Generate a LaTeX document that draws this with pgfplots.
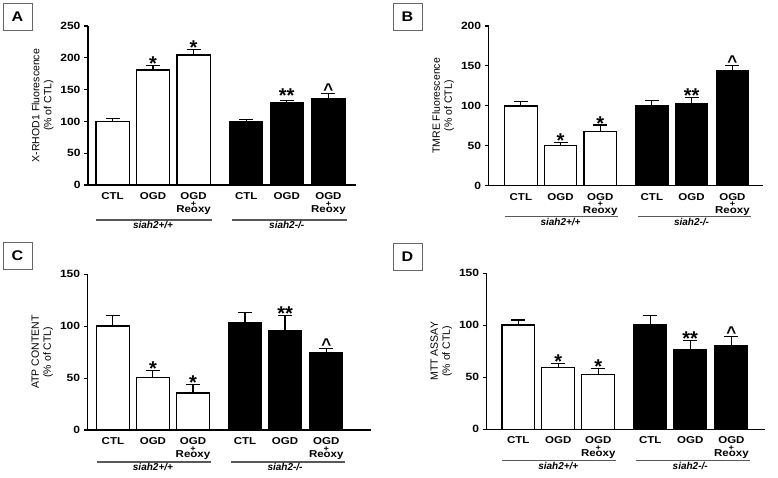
\documentclass[border=0pt]{standalone}
\usepackage{fontspec}
\setmainfont[FakeStretch=1.15]{Liberation Sans}
\newfontfamily\plain{Liberation Sans}
\usepackage{pgfplots}
\pgfplotsset{compat=1.18}

\pgfplotsset{
  panel/.style={
    scale only axis,
    anchor=south west,
    axis x line*=bottom,
    axis y line*=left,
    axis line style={line width=1.1pt},
    ymin=0,
    ybar, bar width=0.82, bar shift=0,
    clip=false,
    tick align=outside,
    major tick length=4pt,
    ytick style={line width=1.1pt, black},
    xtick style={draw=none},
    xtick={0,1,2,3.3,4.3,5.33},
    xticklabels={CTL,OGD,{OGD\\[-1.5pt]{\fontsize{8}{8}\selectfont+}\\[-1.5pt]Reoxy},CTL,OGD,{OGD\\[-1.5pt]{\fontsize{8}{8}\selectfont+}\\[-1.5pt]Reoxy}},
    xticklabel style={font=\bfseries\fontsize{10}{8}\selectfont, align=center},
    yticklabel style={font=\bfseries\fontsize{10.5}{11}\selectfont},
    /pgf/number format/assume math mode=true,
    ylabel style={font=\plain\fontsize{10.5}{12}\selectfont, align=center},
  },
  wbar/.style={fill=white, draw=black, line width=1.2pt,
    error bars/.cd, y dir=plus, y explicit,
    error bar style={line width=1.1pt, black},
    error mark options={rotate=90, line width=1.1pt, mark size=7pt, black}},
  bbar/.style={fill=black, draw=black, line width=1.2pt,
    error bars/.cd, y dir=plus, y explicit,
    error bar style={line width=1.1pt, black},
    error mark options={rotate=90, line width=1.1pt, mark size=7pt, black}},
}

\newcommand{\groups}[1]{%
  \draw[black!65, line width=1.4pt] ([yshift=-#1]axis cs:-0.4,0) -- ([yshift=-#1]axis cs:2.45,0);
  \draw[black!65, line width=1.4pt] ([yshift=-#1]axis cs:2.95,0) -- ([yshift=-#1]axis cs:5.8,0);
  \node[font=\plain\bfseries\itshape\fontsize{10}{11}\selectfont, anchor=north, inner sep=1pt] at ([yshift=-#1-0.5pt]axis cs:1,0) {siah2+/+};
  \node[font=\plain\bfseries\itshape\fontsize{10}{11}\selectfont, anchor=north, inner sep=1pt] at ([yshift=-#1-0.5pt]axis cs:4.3,0) {siah2-/-};
}
\newcommand{\st}[3]{\node[font=\plain\bfseries\fontsize{20}{20}\selectfont, anchor=base, yshift=-5pt] at (axis cs:#1,#2) {#3};}
\newcommand{\ct}[2]{\node[font=\plain\bfseries\fontsize{17}{17}\selectfont, anchor=base, yshift=-2pt] at (axis cs:#1,#2) {\symbol{94}};}
\newcommand{\letter}[3]{\node[draw=black!60, line width=0.8pt, minimum width=29pt, minimum height=27pt, inner sep=0pt, font=\bfseries\fontsize{14}{14}\selectfont] at (#1,#2) {#3};}

\begin{document}
\begin{tikzpicture}
\path[use as bounding box] (0pt,0pt) rectangle (778pt,478pt);

% A
\begin{axis}[panel, at={(88pt,293pt)}, width=268pt, height=159pt,
  xmin=-0.605, xmax=6.01, ymax=250, ytick={0,50,...,250},
  ylabel={X-RHOD1 Fluorescence\\(\% of CTL)}]
\addplot[wbar] coordinates {(0,99.6) +- (0,4.7) (1,180.8) +- (0,7.4) (2,204.4) +- (0,8.9)};
\addplot[bbar] coordinates {(3.3,99.6) +- (0,3.4) (4.3,130) +- (0,2.5) (5.33,136.3) +- (0,7.7)};
\st{1}{188.2}{*}
\st{2}{213.3}{*}
\st{4.3}{137}{**}
\ct{5.33}{144}
\groups{35pt}
\end{axis}

% B
\begin{axis}[panel, at={(488.7pt,292.3pt)}, width=274.3pt, height=159.7pt,
  xmin=-0.81, xmax=6.1, ymax=200, ytick={0,50,...,200},
  ylabel={TMRE Fluorescence\\(\% of CTL)}]
\addplot[wbar] coordinates {(0,99.8) +- (0,6.2) (1,50.1) +- (0,3.8) (2,67.6) +- (0,8.4)};
\addplot[bbar] coordinates {(3.3,99.8) +- (0,7.1) (4.3,102.7) +- (0,7.9) (5.33,143.6) +- (0,7.1)};
\st{1}{53.9}{*}
\st{2}{76}{*}
\st{4.3}{110.6}{**}
\ct{5.33}{150.7}
\groups{31pt}
\end{axis}

% C
\begin{axis}[panel, at={(87.7pt,48pt)}, width=283pt, height=155.7pt,
  xmin=-0.63, xmax=6.44, ymax=150, ytick={0,50,...,150},
  ylabel={ATP CONTENT\\(\% of CTL)}]
\addplot[wbar] coordinates {(0,100.2) +- (0,10.3) (1,50.4) +- (0,6.5) (2,35.7) +- (0,7.7)};
\addplot[bbar] coordinates {(3.3,103.4) +- (0,9.6) (4.3,96) +- (0,14.5) (5.33,74.5) +- (0,3.9)};
\st{1}{56.9}{*}
\st{2}{43.4}{*}
\st{4.3}{110.5}{**}
\ct{5.33}{78.4}
\groups{32pt}
\end{axis}

% D
\begin{axis}[panel, at={(486.7pt,48.7pt)}, width=278.3pt, height=156pt,
  xmin=-0.79, xmax=6.17, ymax=150, ytick={0,50,...,150},
  ylabel={MTT ASSAY\\(\% of CTL)}]
\addplot[wbar] coordinates {(0,100.3) +- (0,4.8) (1,59.6) +- (0,3.9) (2,52.6) +- (0,6.1)};
\addplot[bbar] coordinates {(3.3,100.6) +- (0,8.4) (4.3,76.9) +- (0,8.4) (5.33,80.1) +- (0,9)};
\st{1}{63.5}{*}
\st{2}{58.7}{*}
\st{4.3}{85.3}{**}
\ct{5.33}{89.1}
\groups{31pt}
\end{axis}

\letter{17.5pt}{461.5pt}{A}
\letter{407.5pt}{461.5pt}{B}
\letter{17.5pt}{222pt}{C}
\letter{407.5pt}{221.5pt}{D}
\end{tikzpicture}
\end{document}
